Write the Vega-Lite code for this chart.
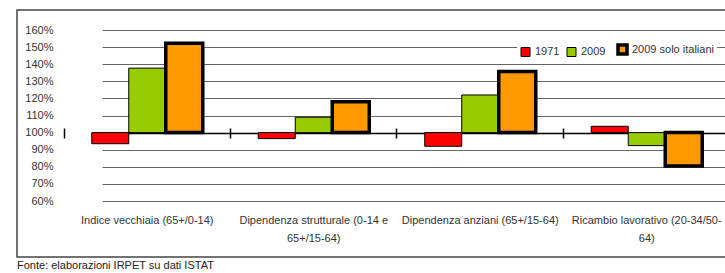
{
  "$schema": "https://vega.github.io/schema/vega-lite/v6.json",
  "autosize": {"type": "none"},
  "padding": {"left": 17, "top": 10, "right": 0, "bottom": 16},
  "width": 718,
  "height": 247,
  "config": {
    "font": "Liberation Sans",
    "view": {"stroke": "#444", "strokeWidth": 1.5},
    "axis": {"labelFont": "Liberation Sans", "labelFontSize": 11, "labelColor": "#333"},
    "axisY": {
      "orient": "left", "offset": -38, "title": null, "domain": false, "ticks": false, "labelPadding": 2,
      "labelOverlap": false, "tickCount": 11,
      "grid": true,
      "gridColor": {"condition": {"test": "datum.value === 100", "value": "#000"}, "value": "#666"},
      "gridWidth": {"condition": {"test": "datum.value === 100", "value": 1.5}, "value": 1}
    }
  },
  "title": {
    "text": "Fonte: elaborazioni IRPET su dati ISTAT",
    "orient": "bottom",
    "anchor": "start",
    "frame": "group",
    "offset": 3,
    "fontSize": 11,
    "fontWeight": "normal",
    "color": "#222",
    "font": "Liberation Sans"
  },
  "data": {
    "values": [
      {"cat": "Indice vecchiaia (65+/0-14)", "series": "1971", "value": 93.5},
      {"cat": "Indice vecchiaia (65+/0-14)", "series": "2009", "value": 137.7},
      {"cat": "Indice vecchiaia (65+/0-14)", "series": "2009 solo italiani", "value": 152.2},
      {"cat": "Dipendenza strutturale (0-14 e 65+/15-64)", "series": "1971", "value": 96.5},
      {"cat": "Dipendenza strutturale (0-14 e 65+/15-64)", "series": "2009", "value": 109},
      {"cat": "Dipendenza strutturale (0-14 e 65+/15-64)", "series": "2009 solo italiani", "value": 118},
      {"cat": "Dipendenza anziani (65+/15-64)", "series": "1971", "value": 92},
      {"cat": "Dipendenza anziani (65+/15-64)", "series": "2009", "value": 122},
      {"cat": "Dipendenza anziani (65+/15-64)", "series": "2009 solo italiani", "value": 135.7},
      {"cat": "Ricambio lavorativo (20-34/50-64)", "series": "1971", "value": 103.7},
      {"cat": "Ricambio lavorativo (20-34/50-64)", "series": "2009", "value": 92.4},
      {"cat": "Ricambio lavorativo (20-34/50-64)", "series": "2009 solo italiani", "value": 80.5}
    ]
  },
  "resolve": {"axis": {"x": "independent"}},
  "layer": [
    {
      "mark": {"type": "bar", "opacity": 0},
      "encoding": {
        "x": {
          "field": "cat", "type": "nominal", "sort": null,
          "scale": {"range": [47, 713], "paddingInner": 0.3333, "paddingOuter": 0.1667},
          "axis": {"orient": "bottom", "offset": -129, "title": null, "labels": false, "domain": false, "ticks": true, "tickSize": 10, "tickColor": "#000", "tickWidth": 1.5, "bandPosition": -0.25, "grid": false, "zindex": 1}
        },
        "y": {
          "field": "value", "type": "quantitative",
          "scale": {"domain": [60, 160], "range": [191, 20], "nice": false, "zero": false},
          "axis": {"values": [60, 70, 80, 90, 100, 110, 120, 130, 140, 150, 160], "labelExpr": "datum.value + '%'"}
        },
        "y2": {"datum": 100}
      }
    },
    {
      "mark": {"type": "bar", "stroke": "#000"},
      "encoding": {
        "x": {
          "field": "cat", "type": "nominal", "sort": null,
          "axis": {
            "orient": "bottom", "offset": -56, "title": null, "domain": false, "ticks": false, "grid": false,
            "labelAngle": 0, "labelPadding": 13, "labelLineHeight": 18.5, "labelLimit": 400,
            "labelExpr": "datum.value == 'Dipendenza strutturale (0-14 e 65+/15-64)' ? ['Dipendenza strutturale (0-14 e', '65+/15-64)'] : datum.value == 'Ricambio lavorativo (20-34/50-64)' ? ['Ricambio lavorativo (20-34/50-', '64)'] : datum.value"
          }
        },
        "xOffset": {"field": "series", "type": "nominal", "sort": null, "scale": {"paddingInner": 0, "paddingOuter": 0}},
        "y": {
          "field": "value", "type": "quantitative",
          "axis": {"values": [60, 70, 80, 90, 100, 110, 120, 130, 140, 150, 160], "labelExpr": "datum.value + '%'"}
        },
        "y2": {"datum": 100},
        "color": {
          "field": "series", "type": "nominal", "sort": null,
          "scale": {"domain": ["1971", "2009", "2009 solo italiani"], "range": ["#FF0000", "#99CC00", "#FF9900"]},
          "legend": {
            "title": null, "orient": "none", "direction": "horizontal", "legendX": 500, "legendY": 31,
            "fillColor": "#fff", "padding": 3, "symbolType": "square", "symbolSize": 81,
            "symbolStrokeColor": "#000", "symbolStrokeWidth": 1, "labelFontSize": 11, "labelFont": "Liberation Sans",
            "labelColor": "#333", "labelOffset": 4, "columnPadding": 5,
            "encode": {"symbols": {"update": {"strokeWidth": {"signal": "datum.value === '2009 solo italiani' ? 3.5 : 1"}, "stroke": {"value": "#000"}}}}
          }
        },
        "strokeWidth": {"condition": {"test": "datum.series === '2009 solo italiani'", "value": 3.5}, "value": 1}
      }
    }
  ]
}
